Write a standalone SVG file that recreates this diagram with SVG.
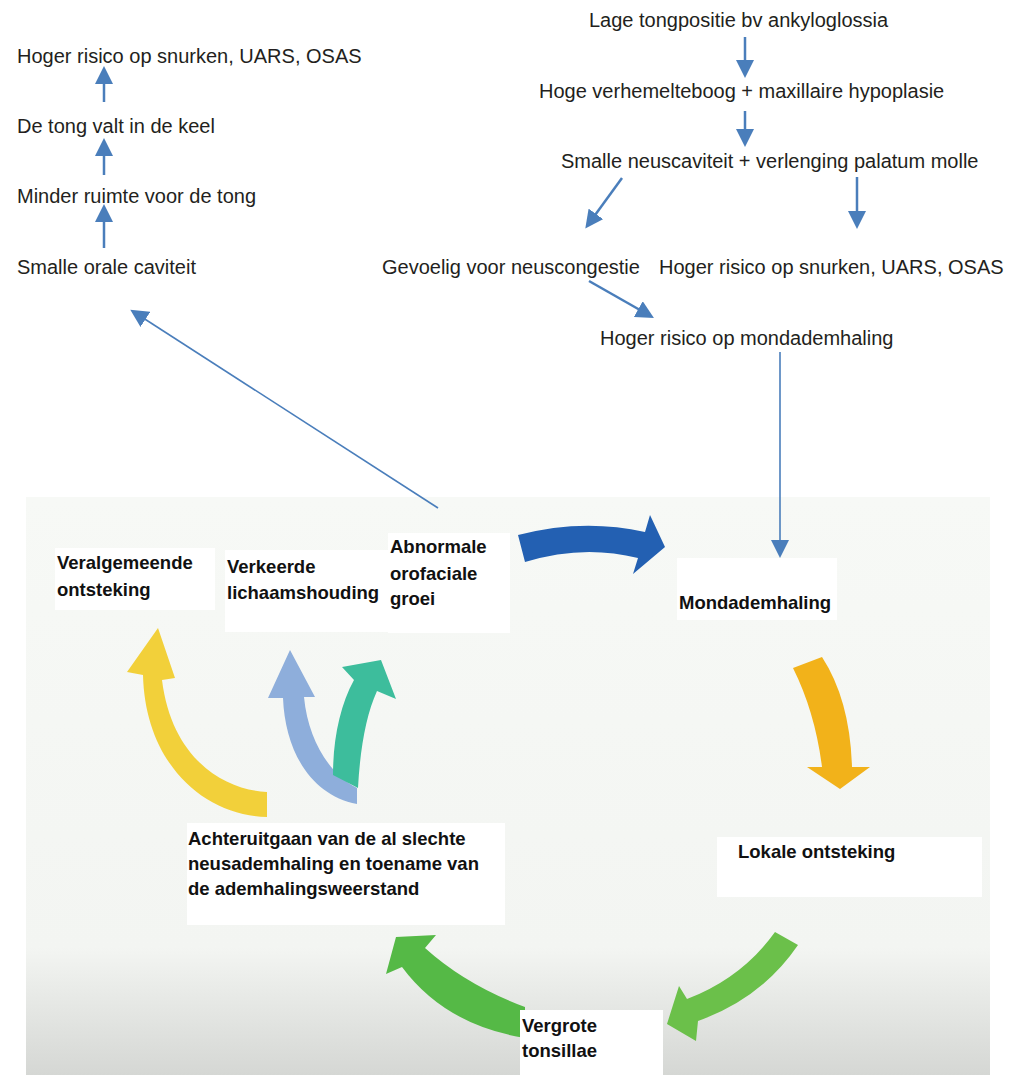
<svg xmlns="http://www.w3.org/2000/svg" width="1015" height="1075" viewBox="0 0 1015 1075">
<style>
.t{font-family:"Liberation Sans",Arial,sans-serif;font-size:20px;fill:#231f20}
.b{font-family:"Liberation Sans",Arial,sans-serif;font-size:18.5px;font-weight:bold;fill:#111}
.c{fill:none;stroke:#4a7ebb;stroke-width:2.5;marker-end:url(#ah)}
.c.thin{stroke-width:1.6}
.box{fill:#ffffff}
</style>
<defs>
<marker id="ah" markerUnits="userSpaceOnUse" viewBox="0 0 18 18" refX="10" refY="9" markerWidth="18" markerHeight="18" orient="auto">
<path d="M0,0 L18,9 L0,18 Z" fill="#4a7ebb"/>
</marker>
<linearGradient id="bg" x1="0" y1="0" x2="0" y2="1">
<stop offset="0" stop-color="#f7f9f6"/>
<stop offset="0.78" stop-color="#f3f5f2"/>
<stop offset="0.86" stop-color="#e8eae7"/>
<stop offset="1" stop-color="#d5d7d4"/>
</linearGradient>
</defs>
<rect width="1015" height="1075" fill="#ffffff"/>
<rect id="panel" x="26" y="497" width="964" height="578" fill="url(#bg)"/>

<g id="cycle-arrows">
<path id="arr-blue" d="M518,535 Q583,518 645,532 L650,515 L665,547 L633,574 L638,558 Q583,544 525,562 Z" fill="#2360b2"/>
<path id="arr-orange" d="M793,668 Q815,712 822,767 L807,767 L840,789 L870,767 L852,767 Q850,700 822,657 Z" fill="#f2b21a"/>
<path id="arr-green-right" d="M775,932 Q742,978 687,999 L679,986 L667,1024 L696,1041 L698,1021 Q762,998 798,945 Z" fill="#6bc04a"/>
<path id="arr-green-left" d="M525,1007 Q466,985 425,948 L436,935 L396,937 L386,974 L402,967 Q445,1025 525,1038 Z" fill="#55b946"/>
<path id="arr-yellow" d="M267,792 C225,790 172,760 162,680 L175,678 L158,628 L127,672 L143,675 C145,760 200,815 267,817 Z" fill="#f2d03a"/>
<path id="arr-lightblue" d="M357,788 C330,775 308,740 304,697 L315,697 L290,650 L268,698 L283,698 C285,750 310,795 357,804 Z" fill="#8eaedb"/>
<path id="arr-teal" d="M333,775 C333,740 340,705 354,680 L342,667 L381,660 L396,699 L377,691 C366,715 360,750 358,788 Z" fill="#3dbd9c"/>
</g>

<g id="connectors">
<path class="c" d="M104,102 L104,74"/>
<path class="c" d="M104,175 L104,146"/>
<path class="c" d="M104,248 L104,212"/>
<path class="c" d="M745,37 L745,70"/>
<path class="c" d="M745,111 L745,139"/>
<path class="c" d="M622,178 L590,222"/>
<path class="c" d="M857,177 L857,221"/>
<path class="c" d="M589,281 L647,314"/>
<path class="c thin" d="M780,352 L780,550"/>
<path class="c thin" d="M438,508 L137,314"/>
</g>

<g id="n-left-osas"><text class="t" x="17" y="63">Hoger risico op snurken, UARS, OSAS</text></g>
<g id="n-tong-keel"><text class="t" x="17" y="133">De tong valt in de keel</text></g>
<g id="n-minder-ruimte"><text class="t" x="17" y="203">Minder ruimte voor de tong</text></g>
<g id="n-smalle-orale"><text class="t" x="17" y="274">Smalle orale caviteit</text></g>

<g id="n-lage"><text class="t" x="589" y="27">Lage tongpositie bv ankyloglossia</text></g>
<g id="n-hoge"><text class="t" x="539" y="98">Hoge verhemelteboog + maxillaire hypoplasie</text></g>
<g id="n-smalle-neus"><text class="t" x="561" y="168">Smalle neuscaviteit + verlenging palatum molle</text></g>
<g id="n-gevoelig"><text class="t" x="382" y="274">Gevoelig voor neuscongestie</text></g>
<g id="n-right-osas"><text class="t" x="659" y="274">Hoger risico op snurken, UARS, OSAS</text></g>
<g id="n-mond-risico"><text class="t" x="600" y="345">Hoger risico op mondademhaling</text></g>

<g id="n-veralgemeende">
<rect class="box" x="55" y="548" width="160" height="62"/>
<text class="b" x="57" y="569">Veralgemeende</text>
<text class="b" x="57" y="596">ontsteking</text>
</g>
<g id="n-verkeerde">
<rect class="box" x="225" y="550" width="163" height="82"/>
<text class="b" x="227" y="573">Verkeerde</text>
<text class="b" x="227" y="599">lichaamshouding</text>
</g>
<g id="n-abnormale">
<rect class="box" x="388" y="533" width="122" height="100"/>
<text class="b" x="390" y="553">Abnormale</text>
<text class="b" x="390" y="580">orofaciale</text>
<text class="b" x="390" y="605">groei</text>
</g>
<g id="n-mondademhaling">
<rect class="box" x="677" y="558" width="160" height="62"/>
<text class="b" x="679" y="609">Mondademhaling</text>
</g>
<g id="n-achteruitgaan">
<rect class="box" x="187" y="823" width="318" height="102"/>
<text class="b" x="188" y="845">Achteruitgaan van de al slechte</text>
<text class="b" x="188" y="870">neusademhaling en toename van</text>
<text class="b" x="188" y="895">de ademhalingsweerstand</text>
</g>
<g id="n-lokale">
<rect class="box" x="717" y="837" width="265" height="60"/>
<text class="b" x="738" y="858">Lokale ontsteking</text>
</g>
<g id="n-vergrote">
<rect class="box" x="520" y="1010" width="143" height="65"/>
<text class="b" x="522" y="1032">Vergrote</text>
<text class="b" x="522" y="1057">tonsillae</text>
</g>
</svg>
